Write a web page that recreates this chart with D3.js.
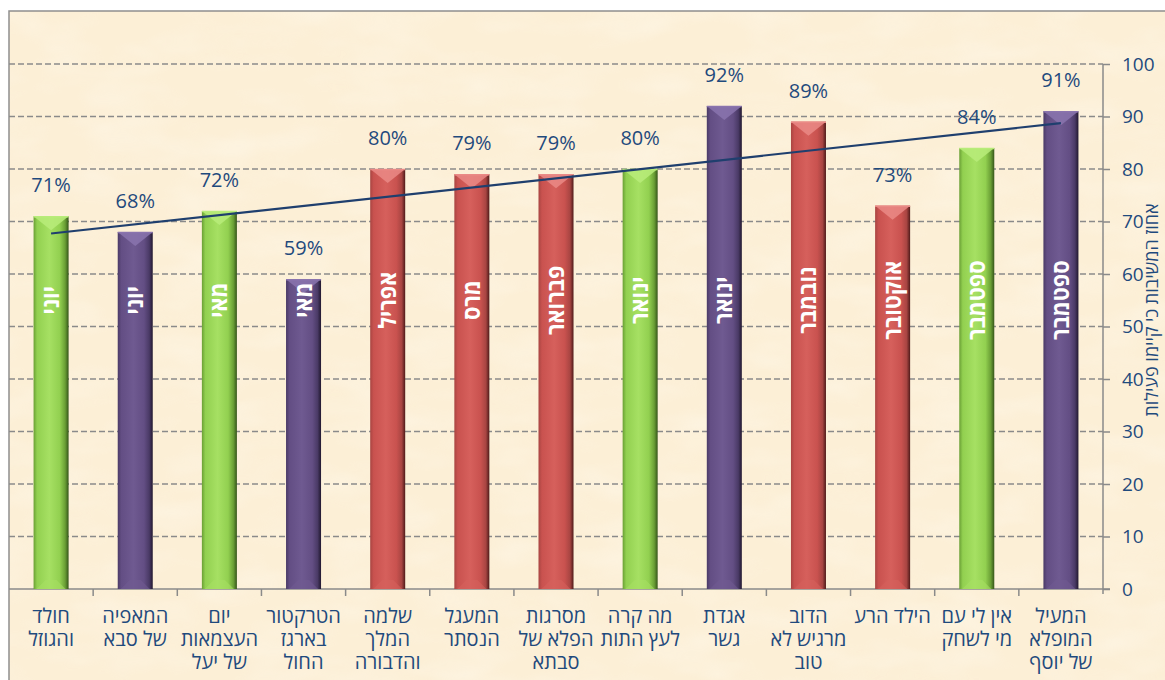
<!DOCTYPE html>
<html>
<head>
<meta charset="utf-8">
<script src="https://cdn.jsdelivr.net/npm/d3@7"></script>
<style>
  html, body { margin: 0; padding: 0; background: #ffffff; }
  svg { display: block; }
</style>
</head>
<body>
<svg id="chart" width="1165" height="680"></svg>
<script>
// ---------------- data ----------------
const categories = [
  "חולד|והגוזל",
  "המאפיה|של סבא",
  "יום|העצמאות|של יעל",
  "הטרקטור|בארגז|החול",
  "שלמה|המלך|והדבורה",
  "המעגל|הנסתר",
  "מסרגות|הפלא של|סבתא",
  "מה קרה|לעץ התות",
  "אגדת|גשר",
  "הדוב|מרגיש לא|טוב",
  "הילד הרע",
  "אין לי עם|מי לשחק",
  "המעיל|המופלא|של יוסף"
];
const values = [71, 68, 72, 59, 80, 79, 79, 80, 92, 89, 73, 84, 91];
const months = ["יוני", "יוני", "מאי", "מאי", "אפריל", "מרס", "פברואר", "ינואר", "ינואר", "נובמבר", "אוקטובר", "ספטמבר", "ספטמבר"];
const colorGroups = ["green", "purple", "green", "purple", "red", "red", "red", "green", "purple", "red", "red", "green", "purple"];
const yTicks = [0, 10, 20, 30, 40, 50, 60, 70, 80, 90, 100];
const axisTitle = "אחוז המשיבות כי קיימו פעילות";

// ---------------- styles ----------------
const palette = {
  green:  { edge: "#6a9f35", main: "#92d050", light: "#a6e063", dark: "#35551a", cap: "#b8ec7a" },
  purple: { edge: "#4a3a66", main: "#634e84", light: "#6f5a91", dark: "#21182f", cap: "#8a74ae" },
  red:    { edge: "#a84542", main: "#c9524f", light: "#d6605c", dark: "#4f1a19", cap: "#ea8a86" }
};
const textBlue = "#1f4a7d";
const font = "'Open Sans', 'Liberation Sans', 'DejaVu Sans', sans-serif";

const svg = d3.select("#chart");
const W = 1165, H = 680;
const plot = { left: 9, right: 1103, top: 64, bottom: 589 };

const x = d3.scaleBand().domain(d3.range(categories.length))
  .range([plot.left, plot.right]).paddingInner(0.584).paddingOuter(0.292);
const y = d3.scaleLinear().domain([0, 100]).range([plot.bottom, plot.top]);

const defs = svg.append("defs");

// parchment texture
const f = defs.append("filter").attr("id", "paper").attr("x", 0).attr("y", 0).attr("width", "100%").attr("height", "100%");
f.append("feTurbulence").attr("type", "fractalNoise").attr("baseFrequency", "0.012 0.03").attr("numOctaves", 3).attr("seed", 7).attr("result", "n");
f.append("feColorMatrix").attr("in", "n").attr("type", "matrix")
  .attr("values", "0 0 0 0 1  0 0 0 0 0.97  0 0 0 0 0.9  0 0 0 -1.3 0.75");

// bar gradients
Object.entries(palette).forEach(([k, c]) => {
  const g = defs.append("linearGradient").attr("id", "grad-" + k).attr("x1", 0).attr("x2", 1).attr("y1", 0).attr("y2", 0);
  [[0, c.edge], [0.1, c.main], [0.45, c.light], [0.75, c.main], [0.9, c.edge], [1, c.dark]].forEach(([o, col]) =>
    g.append("stop").attr("offset", o).attr("stop-color", col));
});

// background frame
svg.append("rect").attr("x", plot.left).attr("y", 11).attr("width", W).attr("height", H)
  .attr("fill", "#fcefd6").attr("stroke", "#8f8f8f").attr("stroke-width", 1.5);
svg.append("rect").attr("x", plot.left + 1).attr("y", 12).attr("width", W).attr("height", H)
  .attr("filter", "url(#paper)").attr("opacity", 0.55);

// gridlines
svg.append("g").selectAll("line").data(yTicks.filter(t => t > 0)).join("line")
  .attr("x1", plot.left).attr("x2", plot.right)
  .attr("y1", d => y(d)).attr("y2", d => y(d))
  .attr("stroke", "#8a8a8a").attr("stroke-width", 1.5).attr("stroke-dasharray", "6,3");

// right axis
const yAxis = d3.axisRight(y).tickValues(yTicks).tickSize(7).tickPadding(12).tickFormat(d3.format("d"));
const ya = svg.append("g").attr("transform", `translate(${plot.right},0)`).call(yAxis);
ya.select(".domain").attr("stroke", "#8a8a8a").attr("stroke-width", 1.5).attr("d", `M0,${plot.top}V${plot.bottom + 5}`);
ya.selectAll(".tick line").attr("stroke", "#8a8a8a").attr("stroke-width", 1.5);
ya.selectAll(".tick text").attr("fill", textBlue).attr("font-family", font).attr("font-size", 19);

// bottom axis
const step = x.step();
const boundaries = d3.range(categories.length + 1).map(i => x(0) - step * x.paddingInner() / 2 + i * step);
svg.append("line").attr("x1", plot.left).attr("x2", plot.right + 7).attr("y1", plot.bottom).attr("y2", plot.bottom)
  .attr("stroke", "#8a8a8a").attr("stroke-width", 1.5);
svg.append("g").selectAll("line").data(boundaries.slice(1, -1)).join("line")
  .attr("x1", d => d).attr("x2", d => d).attr("y1", plot.bottom).attr("y2", plot.bottom + 7)
  .attr("stroke", "#8a8a8a").attr("stroke-width", 1.5);

// bars
const data = values.map((v, i) => ({ i, v, c: colorGroups[i], m: months[i], cat: categories[i] }));
const bars = svg.append("g").selectAll("g").data(data).join("g");
bars.append("rect")
  .attr("x", d => x(d.i)).attr("width", x.bandwidth())
  .attr("y", d => y(d.v)).attr("height", d => y(0) - y(d.v))
  .attr("fill", d => `url(#grad-${d.c})`);
// top cap (bevel)
bars.append("path")
  .attr("d", d => {
    const x0 = x(d.i), x1 = x0 + x.bandwidth(), xm = x0 + x.bandwidth() / 2, t = y(d.v);
    return `M${x0},${t}L${x1},${t}L${xm},${t + 14}Z`;
  })
  .attr("fill", d => palette[d.c].cap).attr("opacity", 0.85);
bars.append("line")
  .attr("x1", d => x(d.i)).attr("x2", d => x(d.i) + x.bandwidth())
  .attr("y1", d => y(d.v) + 0.5).attr("y2", d => y(d.v) + 0.5)
  .attr("stroke", d => palette[d.c].cap).attr("stroke-width", 1.5);
// bottom bevel
bars.append("path")
  .attr("d", d => {
    const x0 = x(d.i), x1 = x0 + x.bandwidth(), b = y(0);
    return `M${x0 + 3},${b}L${x1 - 3},${b}L${x1 - 12},${b - 9}L${x0 + 12},${b - 9}Z`;
  })
  .attr("fill", d => palette[d.c].light).attr("opacity", 0.6);

// month labels inside bars
bars.append("text")
  .attr("transform", d => `translate(${x(d.i) + x.bandwidth() / 2 + 8},${y(55)}) rotate(-90) scale(0.9,1)`)
  .attr("text-anchor", "middle")
  .attr("direction", "rtl")
  .attr("fill", "#ffffff")
  .attr("font-family", font)
  .attr("font-weight", "bold")
  .attr("font-size", 24)
  .text(d => d.m);

// trendline (least squares over the series)
const n = values.length;
const xs = d3.range(1, n + 1);
const mx = d3.mean(xs), my = d3.mean(values);
const slope = d3.sum(xs.map((xi, k) => (xi - mx) * (values[k] - my))) / d3.sum(xs.map(xi => (xi - mx) ** 2));
const icpt = my - slope * mx;
const trend = [0, n - 1].map(i => ({ i, v: icpt + slope * (i + 1) }));
svg.append("path")
  .datum(trend)
  .attr("d", d3.line().x(d => x(d.i) + x.bandwidth() / 2).y(d => y(d.v)))
  .attr("stroke", "#1f3f6e").attr("stroke-width", 2.2).attr("fill", "none");

// value labels
svg.append("g").selectAll("text").data(data).join("text")
  .attr("x", d => x(d.i) + x.bandwidth() / 2)
  .attr("y", d => y(d.v) - 24)
  .attr("text-anchor", "middle")
  .attr("fill", textBlue)
  .attr("font-family", font)
  .attr("font-size", 20)
  .text(d => d.v + "%");

// category labels
const cl = svg.append("g").selectAll("text").data(data).join("text")
  .attr("text-anchor", "middle")
  .attr("direction", "rtl")
  .attr("fill", textBlue)
  .attr("font-family", font)
  .attr("font-size", 20);
cl.selectAll("tspan").data(d => d.cat.split("|").map(s => ({ s, cx: x(d.i) + x.bandwidth() / 2 }))).join("tspan")
  .attr("x", t => t.cx)
  .attr("y", (t, k) => 623 + k * 23)
  .text(t => t.s);

// axis title
svg.append("text")
  .attr("transform", `translate(1158,310) rotate(-90)`)
  .attr("text-anchor", "middle")
  .attr("direction", "rtl")
  .attr("fill", textBlue)
  .attr("font-family", font)
  .attr("font-size", 18)
  .text(axisTitle);
</script>
</body>
</html>
